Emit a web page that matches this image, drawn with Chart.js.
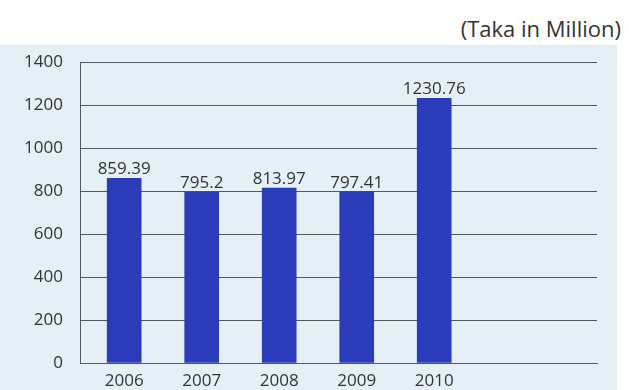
<!DOCTYPE html>
<html>
<head>
<meta charset="utf-8">
<script src="https://cdn.jsdelivr.net/npm/chart.js@4"></script>
<style>
    body { margin: 0; background: #ffffff; width: 629px; height: 390px; position: relative; overflow: hidden; }
    #unit {
        position: absolute; right: 8px; top: 14px;
        font: 22px 'Open Sans', sans-serif; color: #333333; line-height: 28px;
    }
    #panel {
        position: absolute; left: 0; top: 45px; width: 617px; height: 345px;
        background: #e4eff6;
    }
</style>
</head>
<body>
<div id="unit">(Taka in Million)</div>
<div id="panel"><canvas id="profitChart" width="617" height="345"></canvas></div>
<script>
const years = [2006, 2007, 2008, 2009, 2010];
const amounts = [859.39, 795.2, 813.97, 797.41, 1230.76];
const yTicks = [0, 200, 400, 600, 800, 1000, 1200, 1400];

const textColor = '#333333';
const lineColor = '#555555';

// prints the amount above each bar
const valueLabels = {
    id: 'valueLabels',
    afterDatasetsDraw(chart) {
        const c = chart.ctx;
        const meta = chart.getDatasetMeta(0);
        c.save();
        c.font = "17px 'Open Sans', sans-serif";
        c.fillStyle = textColor;
        c.textAlign = 'center';
        c.textBaseline = 'alphabetic';
        meta.data.forEach((bar, i) => {
            c.fillText(String(amounts[i]), bar.x, bar.y - 4);
        });
        c.restore();
    }
};

const ctx = document.getElementById('profitChart').getContext('2d');
const chart = new Chart(ctx, {
    type: 'bar',
    data: {
        datasets: [{
            data: years.map((y, i) => ({ x: y, y: amounts[i] })),
            backgroundColor: '#2b3cba',
            borderWidth: 0,
            barThickness: 34
        }]
    },
    options: {
        responsive: false,
        animation: false,
        layout: { padding: { top: 17, right: 20, left: 0, bottom: 0 } },
        plugins: {
            legend: { display: false },
            tooltip: { enabled: false }
        },
        scales: {
            x: {
                type: 'linear',
                offset: false,
                min: 2005.43,
                max: 2012.1,
                afterBuildTicks: s => { s.ticks = years.map(v => ({ value: v })); },
                afterFit: s => { s.height = 27; },
                grid: { display: false, drawTicks: false },
                border: { display: true, color: lineColor, width: 1 },
                ticks: {
                    padding: 8,
                    color: textColor,
                    font: { family: 'Open Sans', size: 17 },
                    callback: v => String(v)
                }
            },
            y: {
                min: 0,
                max: 1400,
                afterBuildTicks: s => { s.ticks = yTicks.map(v => ({ value: v })); },
                // fixed axis width; label padding should not push the plot down
                afterFit: s => { s.width = 80; s.paddingTop = 0; s.paddingBottom = 0; },
                grid: { color: lineColor, lineWidth: 1, drawTicks: false },
                border: { display: true, color: lineColor, width: 1 },
                ticks: {
                    padding: 17,
                    color: textColor,
                    font: { family: 'Open Sans', size: 17 },
                    callback: v => String(v)
                }
            }
        }
    },
    plugins: [valueLabels]
});
</script>
</body>
</html>
